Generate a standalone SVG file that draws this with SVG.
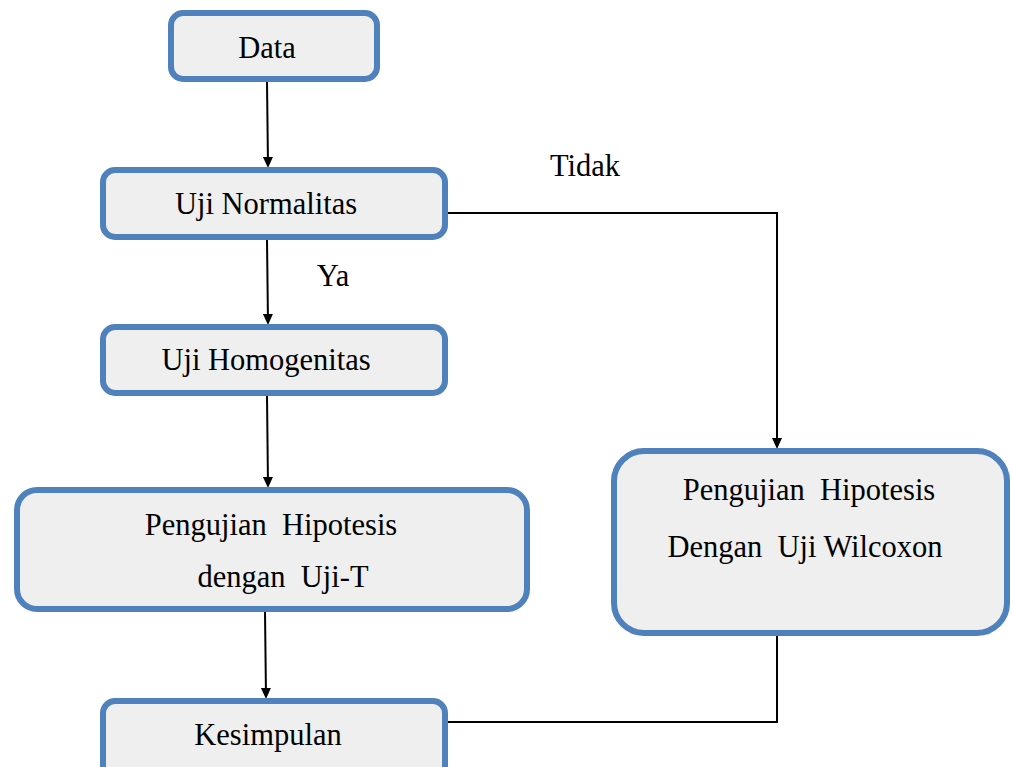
<svg xmlns="http://www.w3.org/2000/svg" width="1012" height="767" viewBox="0 0 1012 767">
<style>
.box{fill:#EFEFEF;stroke:#4F81BD;stroke-width:6}
.t{font-family:"Liberation Serif","Times New Roman",serif;font-size:30.5px;fill:#000;text-anchor:middle}
.c{fill:none;stroke:#000;stroke-width:2}
</style>
<defs>
<marker id="ah" markerWidth="10" markerHeight="12" refX="9" refY="5" orient="auto" markerUnits="userSpaceOnUse">
<path d="M0,0 L11,5 L0,10 z" fill="#000"/>
</marker>
</defs>
<rect width="1012" height="767" fill="#fff"/>
<g id="connectors">
<line class="c" x1="267" y1="82" x2="268" y2="166" marker-end="url(#ah)"/>
<line class="c" x1="267" y1="240" x2="268" y2="323" marker-end="url(#ah)"/>
<line class="c" x1="267" y1="396" x2="268" y2="486" marker-end="url(#ah)"/>
<line class="c" x1="265" y1="612" x2="266" y2="697" marker-end="url(#ah)"/>
<polyline class="c" points="448,213 777,213 777,447" marker-end="url(#ah)"/>
<polyline class="c" points="777,636 777,722 448,722"/>
<text class="t" x="585" y="176">Tidak</text>
<text class="t" x="333" y="286">Ya</text>
</g>
<g id="data">
<rect class="box" x="171" y="13" width="206" height="66" rx="12"/>
<text class="t" x="267" y="58">Data</text>
</g>
<g id="normalitas">
<rect class="box" x="103" y="170" width="342" height="67" rx="12"/>
<text class="t" x="266" y="214">Uji Normalitas</text>
</g>
<g id="homogenitas">
<rect class="box" x="103" y="327" width="342" height="66" rx="12"/>
<text class="t" x="266" y="370">Uji Homogenitas</text>
</g>
<g id="ujit">
<rect class="box" x="17" y="490" width="510" height="119" rx="20"/>
<text class="t" x="271" y="535" xml:space="preserve">Pengujian  Hipotesis</text>
<text class="t" x="283" y="587" xml:space="preserve">dengan  Uji-T</text>
</g>
<g id="wilcoxon">
<rect class="box" x="614" y="451" width="393" height="182" rx="30"/>
<text class="t" x="809" y="500" xml:space="preserve">Pengujian  Hipotesis</text>
<text class="t" x="805" y="557" xml:space="preserve">Dengan  Uji Wilcoxon</text>
</g>
<g id="kesimpulan">
<rect class="box" x="103" y="701" width="342" height="80" rx="12"/>
<text class="t" x="268" y="745">Kesimpulan</text>
</g>
</svg>
